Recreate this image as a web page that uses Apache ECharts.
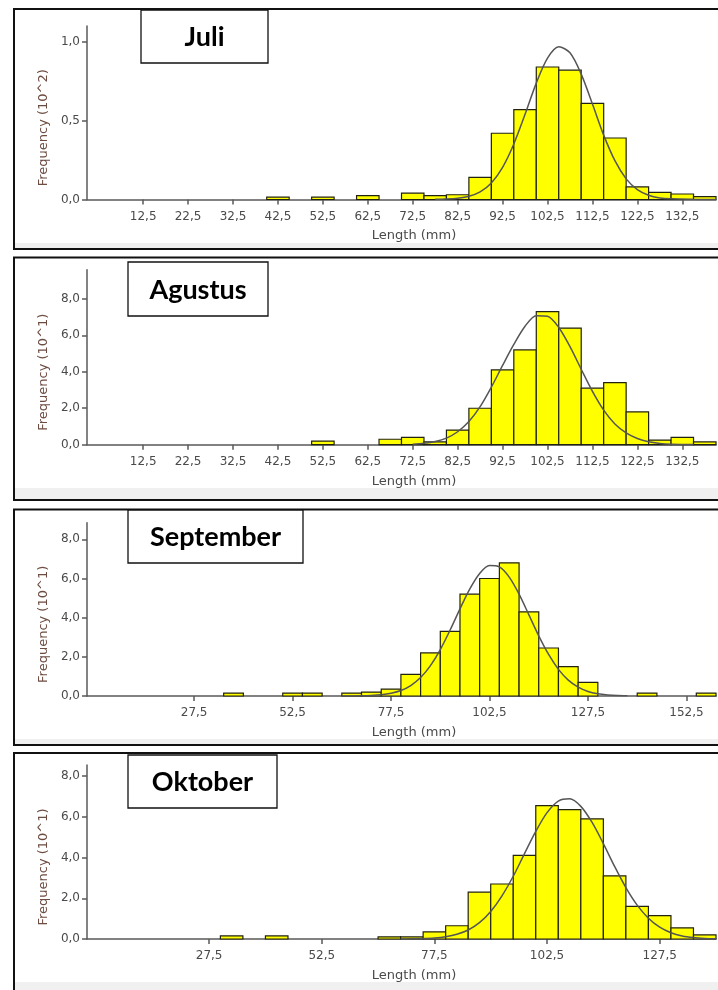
<!DOCTYPE html>
<html><head><meta charset="utf-8">
<script src="https://cdn.jsdelivr.net/npm/echarts@6/dist/echarts.min.js"></script>
<style>html,body{margin:0;padding:0;background:#fff}#c{width:718px;height:990px}</style>
</head><body><div id="c"></div>
<script>
// ---- data ----
const months = ['Juli', 'Agustus', 'September', 'Oktober'];
const yNames = ['Frequency (10^2)', 'Frequency (10^1)', 'Frequency (10^1)', 'Frequency (10^1)'];
const binWidth = 5;

const juliBins = [40, 50, 60, 70, 75, 80, 85, 90, 95, 100, 105, 110, 115, 120, 125, 130, 135];
const juliFreq = [0.015, 0.015, 0.025, 0.04, 0.025, 0.03, 0.14, 0.42, 0.57, 0.84, 0.82, 0.61, 0.39, 0.08, 0.045, 0.035, 0.018];

const agBins = [50, 65, 70, 75, 80, 85, 90, 95, 100, 105, 110, 115, 120, 125, 130, 135];
const agFreq = [0.2, 0.3, 0.4, 0.15, 0.8, 2.0, 4.1, 5.2, 7.3, 6.4, 3.1, 3.4, 1.8, 0.25, 0.4, 0.15];

const sepBins = [35, 50, 55, 65, 70, 75, 80, 85, 90, 95, 100, 105, 110, 115, 120, 125, 140, 155];
const sepFreq = [0.15, 0.15, 0.15, 0.15, 0.2, 0.35, 1.1, 2.2, 3.3, 5.2, 6.0, 6.8, 4.3, 2.45, 1.5, 0.7, 0.15, 0.15];

const oktBins = [30, 40, 65, 70, 75, 80, 85, 90, 95, 100, 105, 110, 115, 120, 125, 130, 135];
const oktFreq = [0.15, 0.15, 0.1, 0.1, 0.35, 0.65, 2.3, 2.7, 4.1, 6.55, 6.35, 5.9, 3.1, 1.6, 1.15, 0.55, 0.2];

const juliCurve = [[77.5,0.001],[80,0.003],[82.5,0.008],[85,0.02],[87.5,0.048],[90,0.105],[92.5,0.204],[95,0.352],[97.5,0.54],[100,0.738],[102.5,0.896],[105,0.968],[107.5,0.93],[110,0.795],[112.5,0.605],[115,0.408],[117.5,0.246],[120,0.131],[122.5,0.063],[125,0.027],[127.5,0.01],[130,0.004],[135,0.001],[140,0]];
const agCurve = [[72.5,0.03],[75,0.074],[77.5,0.17],[80,0.36],[82.5,0.71],[85,1.27],[87.5,2.09],[90,3.16],[92.5,4.35],[95,5.5],[97.5,6.5],[100,7.08],[102.5,7.05],[105,6.43],[107.5,5.38],[110,4.14],[112.5,2.93],[115,1.9],[117.5,1.14],[120,0.65],[122.5,0.34],[125,0.16],[127.5,0.07],[130,0.03],[135,0.005]];
const sepCurve = [[65,0.002],[67.5,0.005],[70,0.01],[72.5,0.027],[75,0.063],[77.5,0.14],[80,0.28],[82.5,0.535],[85,0.94],[87.5,1.55],[90,2.37],[92.5,3.37],[95,4.45],[97.5,5.47],[100,6.26],[102.5,6.66],[105,6.59],[107.5,6.07],[110,5.2],[112.5,4.14],[115,3.07],[117.5,2.12],[120,1.36],[122.5,0.81],[125,0.45],[127.5,0.23],[130,0.11],[132.5,0.05],[135,0.02],[137.5,0.008]];
const oktCurve = [[70,0.003],[72.5,0.008],[75,0.02],[77.5,0.048],[80,0.11],[82.5,0.23],[85,0.44],[87.5,0.8],[90,1.35],[92.5,2.12],[95,3.08],[97.5,4.19],[100,5.28],[102.5,6.2],[105,6.77],[107.5,6.88],[110,6.51],[112.5,5.72],[115,4.68],[117.5,3.56],[120,2.52],[122.5,1.66],[125,1.02],[127.5,0.58],[130,0.31],[132.5,0.15],[135,0.07],[137.5,0.03],[140,0.01]];

const xTicksA = [12.5, 22.5, 32.5, 42.5, 52.5, 62.5, 72.5, 82.5, 92.5, 102.5, 112.5, 122.5, 132.5];
const xTicksSep = [27.5, 52.5, 77.5, 102.5, 127.5, 152.5];
const xTicksOkt = [27.5, 52.5, 77.5, 102.5, 127.5];
const yTicksJuli = [0, 0.5, 1.0];
const yTicksOther = [0, 2, 4, 6, 8];

// ---- layout ----
const panels = [
  {bins: juliBins, freq: juliFreq, curve: juliCurve, xTicks: xTicksA, yTicks: yTicksJuli,
   xMin: 0, xMax: 140, yMax: 1.1, top: 26, height: 173.5,
   frame: [14, 9, 240], box: [141, 10, 127, 53], band: [243, 5]},
  {bins: agBins, freq: agFreq, curve: agCurve, xTicks: xTicksA, yTicks: yTicksOther,
   xMin: 0, xMax: 140, yMax: 9.6, top: 269.7, height: 175,
   frame: [14, 257.5, 242.5], box: [128, 262, 140, 54], band: [488, 11]},
  {bins: sepBins, freq: sepFreq, curve: sepCurve, xTicks: xTicksSep, yTicks: yTicksOther,
   xMin: 0.3, xMax: 160, yMax: 8.85, top: 522.7, height: 173.3,
   frame: [14, 509.5, 235.5], box: [128, 510, 175, 53], band: [739, 5]},
  {bins: oktBins, freq: oktFreq, curve: oktCurve, xTicks: xTicksOkt, yTicks: yTicksOther,
   xMin: 0.4, xMax: 140, yMax: 8.54, top: 765, height: 174,
   frame: [14, 753, 260], box: [128, 755, 149, 53], band: [982, 9]}
];

const fmt = v => v.toFixed(1).replace('.', ',');
const axisColor = '#5a5a5a';
const labelColor = '#4a4a4a';
const grids = [], xAxes = [], yAxes = [], series = [], graphics = [];

panels.forEach((p, i) => {
  grids.push({left: 87, top: p.top, width: 629, height: p.height});
  xAxes.push({
    type: 'value', gridIndex: i, min: p.xMin, max: p.xMax,
    name: 'Length (mm)', nameLocation: 'middle', nameGap: 30,
    nameTextStyle: {color: labelColor, fontSize: 13, fontFamily: 'DejaVu Sans', padding: [0, 0, 0, 25]},
    axisLine: {show: true, onZero: false, lineStyle: {color: axisColor, width: 1.5}},
    axisTick: {show: true, length: 5, customValues: p.xTicks, lineStyle: {color: axisColor, width: 1.5}},
    axisLabel: {customValues: p.xTicks, formatter: fmt, color: labelColor, fontSize: 12, fontFamily: 'DejaVu Sans', margin: 11},
    splitLine: {show: false}
  });
  yAxes.push({
    type: 'value', gridIndex: i, min: 0, max: p.yMax,
    name: yNames[i], nameLocation: 'middle', nameGap: 36,
    nameTextStyle: {color: '#6d4c41', fontSize: 13, fontFamily: 'DejaVu Sans', padding: [0, 30, 0, 0]},
    axisLine: {show: true, lineStyle: {color: axisColor, width: 1.5}},
    axisTick: {show: true, length: 5, customValues: p.yTicks, lineStyle: {color: axisColor, width: 1.5}},
    axisLabel: {customValues: p.yTicks, formatter: fmt, color: labelColor, fontSize: 12, fontFamily: 'DejaVu Sans', margin: 7},
    splitLine: {show: false}
  });
  series.push({
    type: 'custom', xAxisIndex: i, yAxisIndex: i, z: 2,
    data: p.bins.map((b, k) => [b, p.freq[k], binWidth]),
    encode: {x: 0, y: 1},
    renderItem: (params, api) => {
      const x0 = api.value(0), h = api.value(1), w = api.value(2);
      const a = api.coord([x0, h]);
      const b = api.coord([x0 + w, 0]);
      return {type: 'rect', shape: {x: a[0], y: a[1], width: b[0] - a[0], height: b[1] - a[1]},
              style: {fill: '#ffff00', stroke: '#222210', lineWidth: 1.2}};
    }
  });
  series.push({
    type: 'line', xAxisIndex: i, yAxisIndex: i, z: 3, data: p.curve,
    showSymbol: false, smooth: 0.3, lineStyle: {color: '#555', width: 1.5}, silent: true
  });
  graphics.push({type: 'rect', z: -10, shape: {x: 15, y: p.band[0], width: 703, height: p.band[1]},
                 style: {fill: '#f0f0f0'}});
  graphics.push({type: 'rect', z: 100, shape: {x: p.frame[0], y: p.frame[1], width: 720, height: p.frame[2]},
                 style: {fill: 'none', stroke: '#111', lineWidth: 2}});
  graphics.push({type: 'rect', z: 101, shape: {x: p.box[0], y: p.box[1], width: p.box[2], height: p.box[3]},
                 style: {fill: '#fff', stroke: '#111', lineWidth: 1.3}});
  graphics.push({type: 'text', z: 102, x: p.box[0] + p.box[2] / 2, y: p.box[1] + p.box[3] / 2 + 1,
                 style: {text: months[i], fill: '#000', font: 'bold 27px Lato', align: 'center', verticalAlign: 'middle'}});
});

const chart = echarts.init(document.getElementById('c'), null, {renderer: 'canvas'});
chart.setOption({
  animation: false,
  backgroundColor: '#fff',
  grid: grids, xAxis: xAxes, yAxis: yAxes, series: series,
  graphic: {elements: graphics}
});
</script></body></html>
